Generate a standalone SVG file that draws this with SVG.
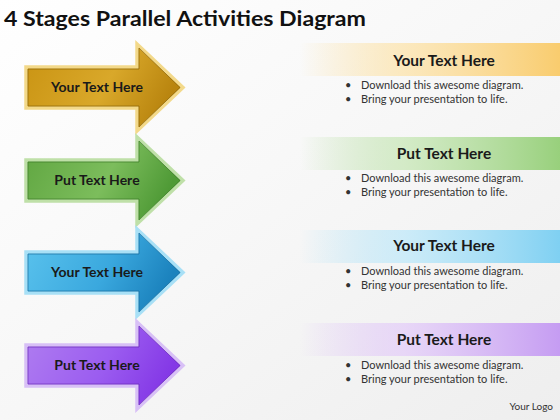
<svg xmlns="http://www.w3.org/2000/svg" width="560" height="420" viewBox="0 0 560 420">
<defs>
<linearGradient id="bg" x1="0" y1="0" x2="1" y2="1"><stop offset="0" stop-color="#ffffff"/><stop offset="0.5" stop-color="#f7f7f7"/><stop offset="1" stop-color="#eeeeee"/></linearGradient>
<linearGradient id="gGold" x1="0" y1="0" x2="1" y2="0.3"><stop offset="0" stop-color="#c99312"/><stop offset="0.6" stop-color="#d9a82a"/><stop offset="1" stop-color="#b9850f"/></linearGradient>
<linearGradient id="gGreen" x1="0" y1="0" x2="1" y2="0.3"><stop offset="0" stop-color="#5fa540"/><stop offset="0.6" stop-color="#7cbd5c"/><stop offset="1" stop-color="#4f9a36"/></linearGradient>
<linearGradient id="gBlue" x1="0" y1="0" x2="1" y2="0.3"><stop offset="0" stop-color="#5cc4ee"/><stop offset="0.6" stop-color="#3aa8de"/><stop offset="1" stop-color="#1b82bd"/></linearGradient>
<linearGradient id="gPurple" x1="0" y1="0" x2="1" y2="0.3"><stop offset="0" stop-color="#b07ff0"/><stop offset="0.6" stop-color="#9b5cf0"/><stop offset="1" stop-color="#8438e6"/></linearGradient>
<linearGradient id="hGold" x1="0" y1="0" x2="1" y2="0"><stop offset="0" stop-color="#fbd98a" stop-opacity="0"/><stop offset="0.4" stop-color="#fde2a6" stop-opacity="0.7"/><stop offset="1" stop-color="#f9cc6e"/></linearGradient>
<linearGradient id="hGreen" x1="0" y1="0" x2="1" y2="0"><stop offset="0" stop-color="#a8d890" stop-opacity="0"/><stop offset="0.4" stop-color="#c5e6b3" stop-opacity="0.7"/><stop offset="1" stop-color="#98d07c"/></linearGradient>
<linearGradient id="hBlue" x1="0" y1="0" x2="1" y2="0"><stop offset="0" stop-color="#9edcf6" stop-opacity="0"/><stop offset="0.4" stop-color="#bce8fa" stop-opacity="0.7"/><stop offset="1" stop-color="#7fd0f2"/></linearGradient>
<linearGradient id="hPurple" x1="0" y1="0" x2="1" y2="0"><stop offset="0" stop-color="#d6b4f6" stop-opacity="0"/><stop offset="0.4" stop-color="#e3cbf9" stop-opacity="0.7"/><stop offset="1" stop-color="#c59cf2"/></linearGradient>
</defs>
<style>
.title{font-family:Lato,"Open Sans",sans-serif;font-weight:bold;font-size:21px;fill:#111}
.atext{font-family:Lato,"Liberation Sans",sans-serif;font-weight:bold;font-size:14px;fill:#1a1a1a;text-anchor:middle}
.htext{font-family:Lato,"Liberation Sans",sans-serif;font-weight:bold;font-size:15.5px;fill:#1a1a1a;text-anchor:middle}
.btext{font-family:Lato,"Liberation Sans",sans-serif;font-size:11px;fill:#333}
.logo{font-family:Lato,"Liberation Sans",sans-serif;font-size:10px;fill:#333;text-anchor:end}
.arrow-out{stroke-width:3.5;stroke-linejoin:miter}
.arrow-in{fill:none;stroke-width:1;stroke-opacity:0.7}
</style>
<rect width="560" height="420" fill="url(#bg)"/>
<text class="title" x="4" y="26" textLength="362" lengthAdjust="spacingAndGlyphs">4 Stages Parallel Activities Diagram</text>

<g id="arrow1">
<path class="arrow-out" d="M26,67 H137 V44 L183,87.5 L137,131 V108 H26 Z" fill="url(#gGold)" stroke="#f3d98a"/>
<path class="arrow-in" d="M28,69 H139 V48 L180,87.5 L139,127 V106 H28 Z" stroke="#8a6408"/>
<text class="atext" x="97" y="92">Your Text Here</text>
</g>
<g id="arrow2">
<path class="arrow-out" d="M26,160 H137 V137 L183,180.5 L137,224 V201 H26 Z" fill="url(#gGreen)" stroke="#bfe0a8"/>
<path class="arrow-in" d="M28,162 H139 V141 L180,180.5 L139,220 V199 H28 Z" stroke="#3c7a28"/>
<text class="atext" x="97" y="185">Put Text Here</text>
</g>
<g id="arrow3">
<path class="arrow-out" d="M26,252 H137 V229 L183,272.5 L137,316 V293 H26 Z" fill="url(#gBlue)" stroke="#a8e0f6"/>
<path class="arrow-in" d="M28,254 H139 V233 L180,272.5 L139,312 V291 H28 Z" stroke="#1a6d9e"/>
<text class="atext" x="97" y="277">Your Text Here</text>
</g>
<g id="arrow4">
<path class="arrow-out" d="M26,345 H137 V322 L183,365.5 L137,409 V386 H26 Z" fill="url(#gPurple)" stroke="#d8c0f6"/>
<path class="arrow-in" d="M28,347 H139 V326 L180,365.5 L139,405 V384 H28 Z" stroke="#6a2cb8"/>
<text class="atext" x="97" y="370">Put Text Here</text>
</g>

<g id="panel1">
<rect x="300" y="43" width="260" height="33" fill="url(#hGold)"/>
<text class="htext" x="444" y="66">Your Text Here</text>
<text class="btext" x="345" y="89">•</text><text class="btext" x="361" y="89">Download this awesome diagram.</text>
<text class="btext" x="345" y="103">•</text><text class="btext" x="361" y="103">Bring your presentation to life.</text>
</g>
<g id="panel2">
<rect x="300" y="137" width="260" height="33" fill="url(#hGreen)"/>
<text class="htext" x="444" y="159">Put Text Here</text>
<text class="btext" x="345" y="182">•</text><text class="btext" x="361" y="182">Download this awesome diagram.</text>
<text class="btext" x="345" y="196">•</text><text class="btext" x="361" y="196">Bring your presentation to life.</text>
</g>
<g id="panel3">
<rect x="300" y="230" width="260" height="33" fill="url(#hBlue)"/>
<text class="htext" x="444" y="251">Your Text Here</text>
<text class="btext" x="345" y="275">•</text><text class="btext" x="361" y="275">Download this awesome diagram.</text>
<text class="btext" x="345" y="289">•</text><text class="btext" x="361" y="289">Bring your presentation to life.</text>
</g>
<g id="panel4">
<rect x="300" y="323" width="260" height="33" fill="url(#hPurple)"/>
<text class="htext" x="444" y="345">Put Text Here</text>
<text class="btext" x="345" y="369">•</text><text class="btext" x="361" y="369">Download this awesome diagram.</text>
<text class="btext" x="345" y="383">•</text><text class="btext" x="361" y="383">Bring your presentation to life.</text>
</g>
<text class="logo" x="553" y="410">Your Logo</text>
<g id="connectors"/>
</svg>
